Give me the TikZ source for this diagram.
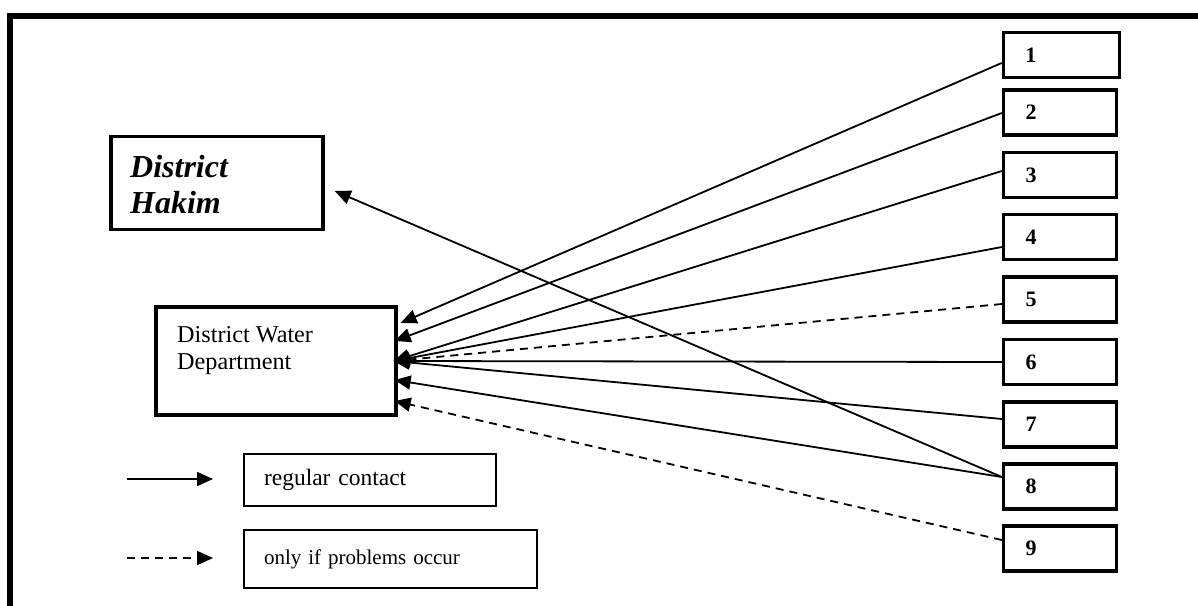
\documentclass[tikz,border=0pt]{standalone}
\usepackage{fontspec}
\setmainfont{Liberation Serif}
\usetikzlibrary{arrows.meta,calc}

\begin{document}
\begin{tikzpicture}[x=1pt,y=-1pt,
  frame/.style={line width=5.5pt, line join=miter},
  heavybox/.style={draw, line width=3.3pt, inner sep=0pt},
  numbox/.style={heavybox, minimum width=113pt, minimum height=45pt,
    inner xsep=22pt, text width=69pt, align=left,
    font=\bfseries\fontsize{22}{26}\selectfont},
  keybox/.style={draw, line width=2pt, inner ysep=0pt, inner xsep=20pt, align=left},
  conn/.style={line width=1.8pt, -{Triangle[length=16pt,width=14pt]}},
  maybe/.style={conn, dash pattern=on 8pt off 6pt},
]
\useasboundingbox (0,0) rectangle (1198,605);

% open outer frame (left and top edges only)
\draw[frame] (10,615) -- (10,16) -- (1210,16);

% district hakim
\node[heavybox, line width=3.5pt, minimum width=212pt, minimum height=93pt] (hakim) at (217,183) {};
\node[anchor=base west, inner sep=0pt, font=\bfseries\itshape\fontsize{32}{36}\selectfont]
  (hakimtext) at (130,177) {\vtop{\hbox{District}\hbox{Hakim}}};

% district water department
\node[heavybox, minimum width=240pt, minimum height=108pt] (dwd) at (276,361) {};
\node[anchor=base west, inner sep=0pt, font=\fontsize{24.2}{27}\selectfont]
  (dwdtext) at (177,342) {\vtop{\hbox{District Water}\hbox{Department}}};

% numbered actors
\node[numbox, minimum width=116pt, text width=72pt] (b1) at (1061.3,55) {1};
\node[numbox] (b2) at (1060,112.5) {2};
\node[numbox] (b3) at (1060,175) {3};
\node[numbox] (b4) at (1060,237) {4};
\node[numbox] (b5) at (1060,299.5) {5};
\node[numbox] (b6) at (1060,362) {6};
\node[numbox] (b7) at (1060,424.5) {7};
\node[numbox] (b8) at (1060,486.5) {8};
\node[numbox] (b9) at (1060,548.5) {9};

% arrow tips on the department and the hakim
\coordinate (t1) at ($(dwd.east)+(3,-38)$);
\coordinate (t2) at ($(dwd.east)+(-3,-20)$);
\coordinate (tc) at ($(dwd.east)+(-4,0)$);
\coordinate (t8) at ($(dwd.east)+(-3,19)$);
\coordinate (t9) at ($(dwd.east)+(-3,40)$);
\coordinate (th) at ($(hakim.east)+(10,8)$);

% contacts
\draw[conn]  ($(b1.west)+(0,8)$)    -- (t1);
\draw[conn]  ($(b2.west)+(0,0.5)$)  -- (t2);
\draw[conn]  ($(b3.west)+(0,-4)$)   -- (tc);
\draw[conn]  ($(b4.west)+(0,10)$)   -- (tc);
\draw[maybe] ($(b5.west)+(0,4.5)$)  -- (tc);
\draw[conn]  (b6.west)              -- (tc);
\draw[conn]  ($(b7.west)+(0,-5.5)$) -- (tc);
\draw[conn]  ($(b8.west)+(0,-9.5)$) -- (t8);
\draw[conn]  ($(b8.west)+(0,-9.5)$) -- (th);
\draw[maybe] ($(b9.west)+(0,-8.5)$) -- (t9);

% key
\coordinate (k1a) at (127,479);
\coordinate (k1b) at (213,479);
\coordinate (k2a) at (127,558);
\coordinate (k2b) at (213,558);
\draw[conn]  (k1a) -- (k1b);
\draw[maybe] (k2a) -- (k2b);
\node[keybox, minimum width=252pt, minimum height=52pt, text width=212pt,
  font=\fontsize{23.5}{27}\selectfont] (key1) at (370,479.5) {regular contact};
\node[keybox, minimum width=293pt, minimum height=58pt, text width=253pt,
  font=\fontsize{21}{25}\selectfont] (key2) at (390.5,559) {only if problems occur};
\end{tikzpicture}
\end{document}
